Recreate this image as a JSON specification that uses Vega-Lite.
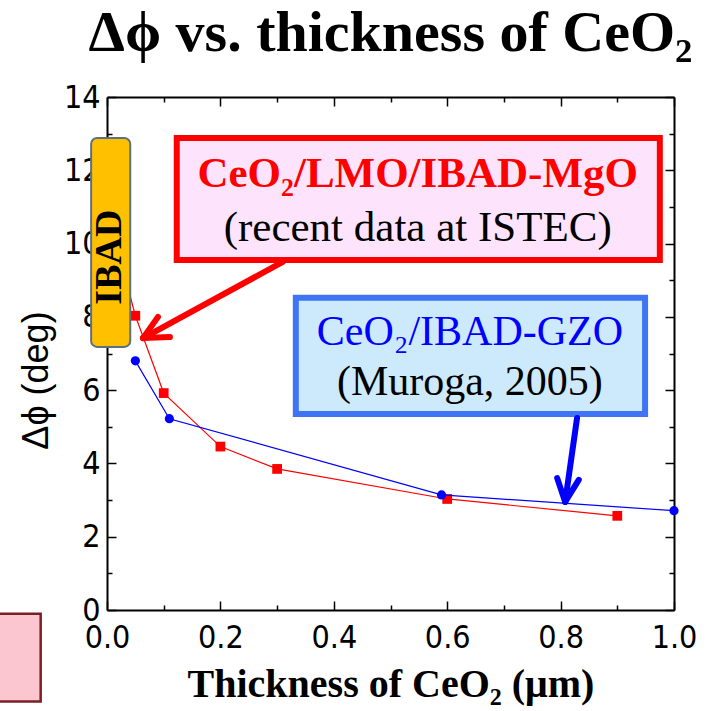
{
  "$schema": "https://vega.github.io/schema/vega-lite/v6.json",
  "width": 567,
  "height": 513,
  "autosize": "none",
  "padding": {"left": 107, "top": 97, "right": 34, "bottom": 101},
  "background": "white",
  "title": {"text": "Δϕ vs. thickness of CeO₂", "font": "Liberation Serif", "fontSize": 58, "fontWeight": "bold", "color": "black", "anchor": "middle", "offset": 18},
  "config": {"view": {"stroke": null}},
  "datasets": {
    "series": [
      {"s": "red", "x": 0.02, "y": 9.8},
      {"s": "red", "x": 0.05, "y": 8.03},
      {"s": "red", "x": 0.10, "y": 5.92},
      {"s": "red", "x": 0.20, "y": 4.46},
      {"s": "red", "x": 0.30, "y": 3.85},
      {"s": "red", "x": 0.60, "y": 3.03},
      {"s": "red", "x": 0.90, "y": 2.57},
      {"s": "blue", "x": 0.05, "y": 6.8},
      {"s": "blue", "x": 0.11, "y": 5.22},
      {"s": "blue", "x": 0.59, "y": 3.14},
      {"s": "blue", "x": 1.0, "y": 2.71}
    ],
    "arrows": [
      {"a": "red", "x": 0.310, "y": 9.50, "x2": 0.0635, "y2": 7.42},
      {"a": "red", "x": 0.0635, "y": 7.42, "x2": 0.090, "y2": 8.00},
      {"a": "red", "x": 0.0635, "y": 7.42, "x2": 0.111, "y2": 7.45},
      {"a": "blue", "x": 0.829, "y": 5.24, "x2": 0.808, "y2": 2.95},
      {"a": "blue", "x": 0.808, "y": 2.95, "x2": 0.794, "y2": 3.60},
      {"a": "blue", "x": 0.808, "y": 2.95, "x2": 0.832, "y2": 3.55}
    ],
    "boxes": [
      {"b": "red", "x": 0.123, "x2": 0.975, "y": 12.88, "y2": 9.55},
      {"b": "blue", "x": 0.333, "x2": 0.949, "y": 8.52, "y2": 5.35},
      {"b": "ibad", "x": -0.028, "x2": 0.041, "y": 12.88, "y2": 7.18},
      {"b": "pink", "x": -0.3, "x2": -0.117, "y": -0.1, "y2": -2.5}
    ],
    "texts": [
      {"t": "red1", "x": 0.548, "y": 11.54, "text": "CeO₂/LMO/IBAD-MgO"},
      {"t": "red2", "x": 0.548, "y": 10.07, "text": "(recent data at ISTEC)"},
      {"t": "blue1", "x": 0.640, "y": 7.23, "text": "CeO₂/IBAD-GZO"},
      {"t": "blue2", "x": 0.640, "y": 5.87, "text": "(Muroga, 2005)"},
      {"t": "ibad", "x": 0.006, "y": 9.63, "text": "IBAD"}
    ]
  },
  "encoding": {
    "x": {"field": "x", "type": "quantitative", "scale": {"domain": [0, 1], "nice": false, "zero": false}, "axis": null},
    "y": {"field": "y", "type": "quantitative", "scale": {"domain": [0, 14], "nice": false, "zero": false}, "axis": null}
  },
  "layer": [
    {
      "data": {"name": "series"},
      "transform": [{"filter": "datum.s == 'red'"}],
      "mark": {"type": "line", "color": "#ff0000", "strokeWidth": 1.2, "point": {"shape": "square", "filled": true, "size": 95, "color": "#ff0000", "opacity": 1}},
      "encoding": {
        "x": {"field": "x", "type": "quantitative", "axis": {
          "orient": "bottom",
          "values": [0, 0.1, 0.2, 0.3, 0.4, 0.5, 0.6, 0.7, 0.8, 0.9, 1.0],
          "labelExpr": "round(datum.value*10)%2==0 ? format(datum.value, '.1f') : ''",
          "tickSize": {"condition": {"test": "round(datum.value*10)%2==0", "value": -9}, "value": -5},
          "tickColor": "black", "tickWidth": 1.5,
          "domainColor": "black", "domainWidth": 2,
          "grid": false,
          "labelFont": "Liberation Sans Narrow, DejaVu Sans Condensed, Liberation Sans",
          "labelFontSize": 32, "labelColor": "black", "labelPadding": 21, "labelFlush": false, "labelOverlap": false,
          "title": "Thickness of CeO₂ (μm)",
          "titleFont": "Liberation Serif", "titleFontSize": 40, "titleFontWeight": "bold", "titleColor": "black", "titlePadding": 7
        }},
        "y": {"field": "y", "type": "quantitative", "axis": {
          "orient": "left",
          "values": [0, 1, 2, 3, 4, 5, 6, 7, 8, 9, 10, 11, 12, 13, 14],
          "labelExpr": "datum.value%2==0 ? format(datum.value, 'd') : ''",
          "tickSize": {"condition": {"test": "datum.value%2==0", "value": -9}, "value": -5},
          "tickColor": "black", "tickWidth": 1.5,
          "domainColor": "black", "domainWidth": 2,
          "grid": false,
          "labelFont": "Liberation Sans Narrow, DejaVu Sans Condensed, Liberation Sans",
          "labelFontSize": 32, "labelColor": "black", "labelPadding": 16, "labelFlush": false, "labelOverlap": false,
          "title": "Δϕ (deg)",
          "titleFont": "Liberation Sans", "titleFontSize": 36, "titleFontWeight": "normal", "titleColor": "black", "titlePadding": 8, "titleY": 283
        }}
      }
    },
    {
      "data": {"name": "series"},
      "transform": [{"filter": "datum.s == 'blue'"}],
      "mark": {"type": "line", "color": "#0000ff", "strokeWidth": 1.2, "point": {"shape": "circle", "filled": true, "size": 85, "color": "#0000ff", "opacity": 1}},
      "encoding": {
        "x": {"field": "x", "type": "quantitative", "axis": {
          "orient": "top",
          "values": [0, 0.1, 0.2, 0.3, 0.4, 0.5, 0.6, 0.7, 0.8, 0.9, 1.0],
          "labels": false,
          "tickSize": {"condition": {"test": "round(datum.value*10)%2==0", "value": -9}, "value": -5},
          "tickColor": "black", "tickWidth": 1.5,
          "domainColor": "black", "domainWidth": 2,
          "grid": false, "title": null
        }},
        "y": {"field": "y", "type": "quantitative", "axis": {
          "orient": "right",
          "values": [0, 1, 2, 3, 4, 5, 6, 7, 8, 9, 10, 11, 12, 13, 14],
          "labels": false,
          "tickSize": {"condition": {"test": "datum.value%2==0", "value": -9}, "value": -5},
          "tickColor": "black", "tickWidth": 1.5,
          "domainColor": "black", "domainWidth": 2,
          "grid": false, "title": null
        }}
      }
    },
    {
      "data": {"name": "boxes"},
      "transform": [{"filter": "datum.b == 'red'"}],
      "mark": {"type": "rect", "fill": "#fde4fc", "stroke": "#ff0000", "strokeWidth": 6},
      "encoding": {"x2": {"field": "x2"}, "y2": {"field": "y2"}}
    },
    {
      "data": {"name": "boxes"},
      "transform": [{"filter": "datum.b == 'blue'"}],
      "mark": {"type": "rect", "fill": "#cdeafc", "stroke": "#3f74f5", "strokeWidth": 6},
      "encoding": {"x2": {"field": "x2"}, "y2": {"field": "y2"}}
    },
    {
      "data": {"name": "boxes"},
      "transform": [{"filter": "datum.b == 'ibad'"}],
      "mark": {"type": "rect", "fill": "#ffc000", "stroke": "#5b7083", "strokeWidth": 2, "cornerRadius": 6},
      "encoding": {"x2": {"field": "x2"}, "y2": {"field": "y2"}}
    },
    {
      "data": {"name": "boxes"},
      "transform": [{"filter": "datum.b == 'pink'"}],
      "mark": {"type": "rect", "fill": "#fcc6d0", "stroke": "#7a1f24", "strokeWidth": 2.5},
      "encoding": {"x2": {"field": "x2"}, "y2": {"field": "y2"}}
    },
    {
      "data": {"name": "arrows"},
      "transform": [{"filter": "datum.a == 'red'"}],
      "mark": {"type": "rule", "color": "#ff0000", "strokeWidth": 6, "strokeCap": "round"},
      "encoding": {"x2": {"field": "x2"}, "y2": {"field": "y2"}}
    },
    {
      "data": {"name": "arrows"},
      "transform": [{"filter": "datum.a == 'blue'"}],
      "mark": {"type": "rule", "color": "#0000ff", "strokeWidth": 6, "strokeCap": "round"},
      "encoding": {"x2": {"field": "x2"}, "y2": {"field": "y2"}}
    },
    {
      "data": {"name": "texts"},
      "transform": [{"filter": "datum.t == 'red1'"}],
      "mark": {"type": "text", "font": "Liberation Serif", "fontSize": 43, "fontWeight": "bold", "color": "#ff0000", "align": "center", "baseline": "alphabetic"},
      "encoding": {"text": {"field": "text"}}
    },
    {
      "data": {"name": "texts"},
      "transform": [{"filter": "datum.t == 'red2'"}],
      "mark": {"type": "text", "font": "Liberation Serif", "fontSize": 43, "fontWeight": "normal", "color": "black", "align": "center", "baseline": "alphabetic"},
      "encoding": {"text": {"field": "text"}}
    },
    {
      "data": {"name": "texts"},
      "transform": [{"filter": "datum.t == 'blue1'"}],
      "mark": {"type": "text", "font": "Liberation Serif", "fontSize": 42, "fontWeight": "normal", "color": "#0000ff", "align": "center", "baseline": "alphabetic"},
      "encoding": {"text": {"field": "text"}}
    },
    {
      "data": {"name": "texts"},
      "transform": [{"filter": "datum.t == 'blue2'"}],
      "mark": {"type": "text", "font": "Liberation Serif", "fontSize": 42, "fontWeight": "normal", "color": "black", "align": "center", "baseline": "alphabetic"},
      "encoding": {"text": {"field": "text"}}
    },
    {
      "data": {"name": "texts"},
      "transform": [{"filter": "datum.t == 'ibad'"}],
      "mark": {"type": "text", "font": "Liberation Serif", "fontSize": 38, "fontWeight": "bold", "color": "black", "align": "center", "baseline": "middle", "angle": 270},
      "encoding": {"text": {"field": "text"}}
    }
  ],
  "resolve": {"axis": {"x": "independent", "y": "independent"}}
}
